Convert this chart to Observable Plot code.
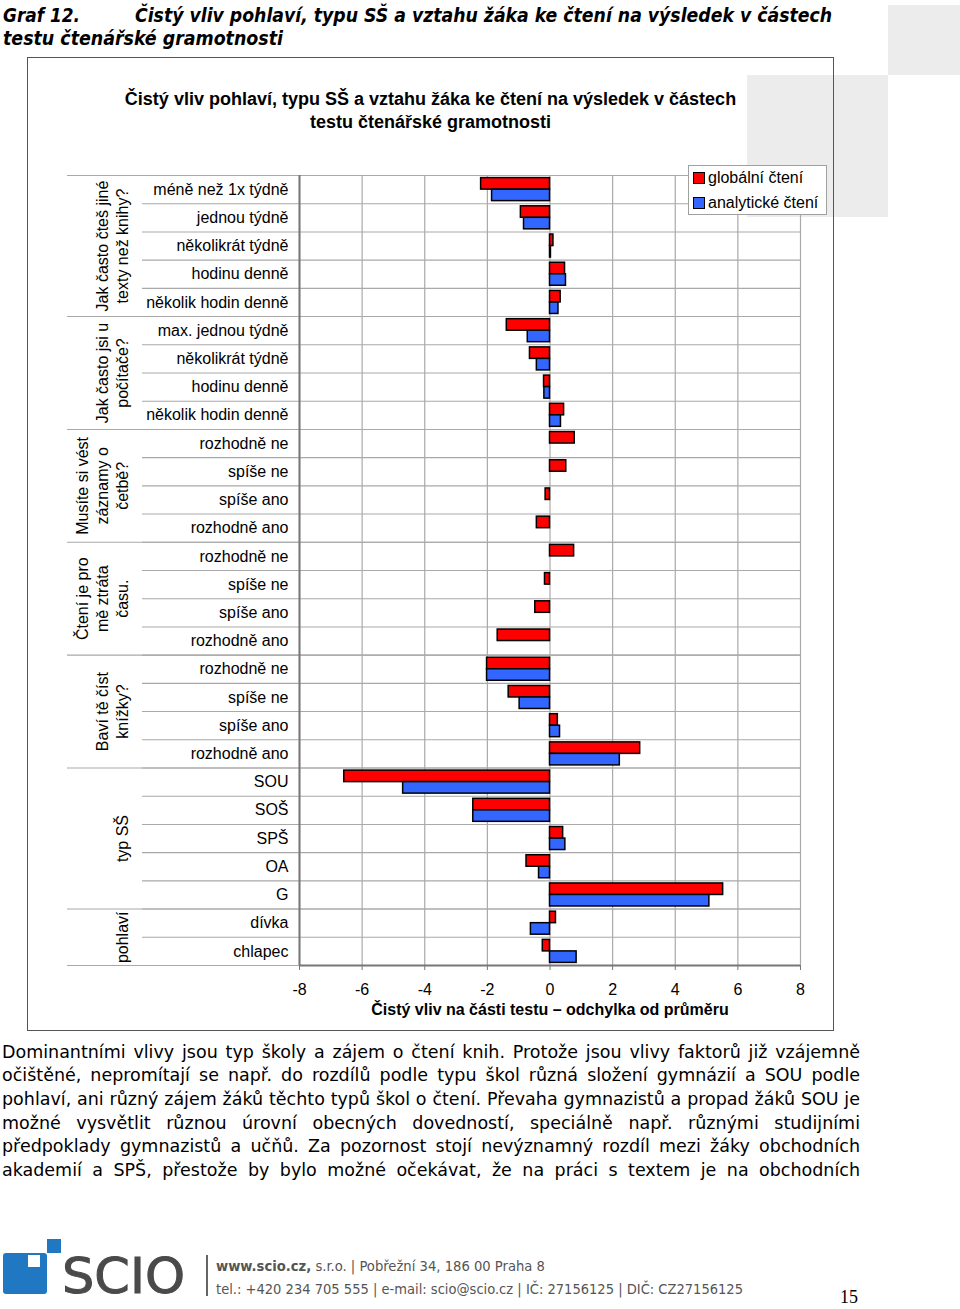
<!DOCTYPE html>
<html><head><meta charset="utf-8">
<script src="https://cdn.jsdelivr.net/npm/d3@7"></script>
<script src="https://cdn.jsdelivr.net/npm/@observablehq/plot@0.6"></script>
<style>
html,body{margin:0;padding:0;background:#fff;}
#page{position:relative;width:960px;height:1309px;overflow:hidden;font-family:"Liberation Sans",Arial,sans-serif;color:#000;}
.abs{position:absolute;white-space:nowrap;}
.sq{position:absolute;background:#ececec;}
.head{position:absolute;white-space:nowrap;font-family:"DejaVu Sans Condensed","DejaVu Sans",sans-serif;font-stretch:condensed;font-weight:bold;font-style:italic;font-size:19px;line-height:23px;}
#box{position:absolute;left:27px;top:57px;width:807px;height:974px;border:1.5px solid #555;box-sizing:border-box;}
.ctitle{position:absolute;left:27px;width:807px;text-align:center;font-weight:bold;font-size:18px;line-height:23px;white-space:nowrap;}
#chart{position:absolute;left:27px;top:150px;}
#legend{position:absolute;left:688px;top:165px;width:139px;height:50px;background:#fff;border:1px solid #a0a0a0;box-sizing:border-box;font-size:16px;}
.li{position:absolute;left:4px;white-space:nowrap;line-height:20px;}
.sw{display:inline-block;width:10px;height:10px;border:1px solid #000;margin-right:3px;vertical-align:-1px;}
.para{position:absolute;left:2px;white-space:nowrap;font-family:"DejaVu Sans",sans-serif;font-size:17px;line-height:23.5px;}
.foot{position:absolute;white-space:nowrap;font-family:"DejaVu Sans Condensed","DejaVu Sans",sans-serif;font-stretch:condensed;font-size:14px;line-height:18px;color:#555;transform-origin:0 0;}
</style></head>
<body><div id="page">
<div class="sq" style="left:888px;top:5px;width:72px;height:70px"></div>
<div class="sq" style="left:747px;top:75px;width:141px;height:142px"></div>

<div class="head fit" data-w="77" style="left:3px;top:3.5px">Graf 12.</div>
<div class="head fit" data-w="697" style="left:135px;top:3.5px">Čistý vliv pohlaví, typu SŠ a vztahu žáka ke čtení na výsledek v částech</div>
<div class="head fit" data-w="280" style="left:3px;top:26.5px">testu čtenářské gramotnosti</div>

<div id="box"></div>
<div class="ctitle" style="top:87.5px">Čistý vliv pohlaví, typu SŠ a vztahu žáka ke čtení na výsledek v částech</div>
<div class="ctitle" style="top:110.5px">testu čtenářské gramotnosti</div>
<div id="chart"></div>
<div id="legend"></div>

<div id="paragraph"></div>

<div class="abs" style="left:3px;top:1253px;width:44px;height:41px;background:#1f78c1;border-radius:3px"></div>
<div class="abs" style="left:28px;top:1255px;width:12px;height:12px;background:#fff"></div>
<div class="abs" style="left:47px;top:1239px;width:14px;height:14px;background:#1f78c1"></div>
<div class="abs fit" data-w="123" style="left:62px;top:1251px;font-family:'DejaVu Sans',sans-serif;font-size:50px;line-height:50px;color:#4a4a4a;-webkit-text-stroke:1px #4a4a4a;transform-origin:0 0">SCIO</div>
<div class="abs" style="left:206px;top:1255px;width:1.5px;height:41px;background:#666"></div>
<div class="foot fit" data-w="329" style="left:216px;top:1257px"><b>www.scio.cz,</b> s.r.o. | Pobřežní 34, 186 00 Praha 8</div>
<div class="foot fit" data-w="527" style="left:216px;top:1280px">tel.: +420 234 705 555 | e-mail: scio@scio.cz | IČ: 27156125 | DIČ: CZ27156125</div>
<div class="abs fit" data-w="18" style="left:840px;top:1287px;font-family:'Liberation Serif',serif;font-size:19px;line-height:19px;transform-origin:0 0">15</div>
</div>
<script>
// ---- data ----
const groupLabels = ["Jak často čteš jiné\ntexty než knihy?", "Jak často jsi u\npočítače?", "Musíte si vést\nzáznamy o\nčetbě?", "Čtení je pro\nmě ztráta\nčasu.", "Baví tě číst\nknížky?", "typ SŠ", "pohlaví"];
const groupSizes = [5, 4, 4, 4, 4, 5, 2];
const categories = ["méně než 1x týdně", "jednou týdně", "několikrát týdně", "hodinu denně", "několik hodin denně",
  "max. jednou týdně", "několikrát týdně", "hodinu denně", "několik hodin denně",
  "rozhodně ne", "spíše ne", "spíše ano", "rozhodně ano",
  "rozhodně ne", "spíše ne", "spíše ano", "rozhodně ano",
  "rozhodně ne", "spíše ne", "spíše ano", "rozhodně ano",
  "SOU", "SOŠ", "SPŠ", "OA", "G",
  "dívka", "chlapec"];
const globalni = [-2.20, -0.93, 0.11, 0.48, 0.34,
  -1.38, -0.64, -0.19, 0.45,
  0.79, 0.52, -0.14, -0.42,
  0.77, -0.16, -0.47, -1.67,
  -2.01, -1.32, 0.25, 2.88,
  -6.57, -2.45, 0.42, -0.75, 5.53,
  0.19, -0.23];
const analyticke = [-1.85, -0.83, 0.03, 0.51, 0.27,
  -0.71, -0.42, -0.18, 0.35,
  null, null, null, null,
  null, null, null, null,
  -2.01, -0.97, 0.32, 2.23,
  -4.69, -2.45, 0.49, -0.35, 5.09,
  -0.61, 0.85];
const seriesNames = ["globální čtení", "analytické čtení"];
const seriesColors = ["#ff0000", "#3366ff"];
const xTicks = [-8, -6, -4, -2, 0, 2, 4, 6, 8];
const axisLabel = "Čistý vliv na části testu – odchylka od průměru";
const paragraphLines = [
  "Dominantními vlivy jsou typ školy a zájem o čtení knih. Protože jsou vlivy faktorů již vzájemně",
  "očištěné, nepromítají se např. do rozdílů podle typu škol různá složení gymnázií a SOU podle",
  "pohlaví, ani různý zájem žáků těchto typů škol o čtení. Převaha gymnazistů a propad žáků SOU je",
  "možné vysvětlit různou úrovní obecných dovedností, speciálně např. různými studijními",
  "předpoklady gymnazistů a učňů. Za pozornost stojí nevýznamný rozdíl mezi žáky obchodních",
  "akademií a SPŠ, přestože by bylo možné očekávat, že na práci s textem je na obchodních"
];

// ---- chart ----
const W = 807, H = 875, ML = 272, MR = 34, MT = 25, MB = 60;
const N = categories.length;
const bw = (H - MT - MB) / N;
const keys = categories.map((_, i) => "r" + i);
const starts = [];
{ let acc = 0; for (const n of groupSizes) { starts.push(acc); acc += n; } }
const rows = keys.map((k, i) => ({key: k, glob: globalni[i], anal: analyticke[i]}));
const gridColor = "#a9a9a9";

const chart = Plot.plot({
  width: W, height: H, marginLeft: ML, marginRight: MR, marginTop: MT, marginBottom: MB,
  style: {fontFamily: "'Liberation Sans', Arial, sans-serif", fontSize: "16px", color: "#000", background: "transparent", overflow: "visible"},
  x: {domain: [xTicks[0], xTicks[xTicks.length - 1]], label: null},
  y: {domain: keys, padding: 0, round: false, label: null},
  marks: [
    Plot.gridX(xTicks, {stroke: gridColor, strokeOpacity: 1, strokeWidth: 1.2}),
    Plot.ruleY(keys, {dy: -bw / 2, stroke: gridColor, strokeWidth: 1.1, insetLeft: -157}),
    Plot.ruleY(starts.map(s => keys[s]), {dy: -bw / 2, stroke: gridColor, strokeWidth: 1.1, insetLeft: -232}),
    Plot.ruleY([keys[N - 1]], {dy: bw / 2, stroke: gridColor, strokeWidth: 1.1, insetLeft: -232}),
    Plot.barX(rows, {y: "key", x: "glob", fill: seriesColors[0], stroke: "#000", strokeWidth: 1.5, insetTop: 2.6, insetBottom: bw / 2}),
    Plot.barX(rows.filter(d => d.anal != null), {y: "key", x: "anal", fill: seriesColors[1], stroke: "#000", strokeWidth: 1.5, insetTop: bw / 2, insetBottom: 2.6}),
    Plot.ruleX([xTicks[0]], {stroke: "#777", strokeWidth: 2}),
    Plot.ruleY([keys[N - 1]], {dy: bw / 2, stroke: "#777", strokeWidth: 2}),
    Plot.axisX({ticks: xTicks, tickSize: 5, tickPadding: 13, stroke: "#777", tickFormat: d => String(d), label: null}),
    Plot.axisY({tickSize: 0, tickPadding: 11, tickFormat: k => categories[keys.indexOf(k)], label: null}),
    ...groupLabels.map((g, gi) => Plot.text([g], {
      text: d => d, y: [keys[starts[gi]]], frameAnchor: "left", textAnchor: "middle", dx: -172,
      dy: (groupSizes[gi] - 1) / 2 * bw, rotate: -90, lineAnchor: "bottom", lineHeight: 1.25, fill: "#000"
    })),
    Plot.text([axisLabel], {text: d => d, frameAnchor: "bottom", textAnchor: "middle", dy: 49.5, fontWeight: "bold", fill: "#000"})
  ]
});
document.getElementById("chart").append(chart);

// ---- legend ----
const leg = document.getElementById("legend");
seriesNames.forEach((s, i) => {
  const d = document.createElement("div");
  d.className = "li";
  d.style.top = (2 + i * 25) + "px";
  d.innerHTML = `<span class="sw" style="background:${seriesColors[i]}"></span>${s}`;
  leg.append(d);
});

// ---- paragraph ----
const para = document.getElementById("paragraph");
const lineEls = paragraphLines.map((t, i) => {
  const d = document.createElement("div");
  d.className = "para";
  d.style.top = (1040.5 + i * 23.7) + "px";
  d.textContent = t;
  para.append(d);
  return d;
});
// size the font so that the tightest line (3rd) sets naturally at the column width
{
  const nat3 = lineEls[2].getBoundingClientRect().width;
  const fs = 17 * 854 / nat3;
  lineEls.forEach(d => d.style.fontSize = fs + "px");
}
lineEls.forEach((d, i) => {
  const t = paragraphLines[i];
  const nat = d.getBoundingClientRect().width;
  const spaces = (t.match(/ /g) || []).length;
  d.style.wordSpacing = ((858 - nat) / spaces) + "px";
});

// ---- fit widths ----
document.querySelectorAll(".fit").forEach(el => {
  const w = +el.dataset.w;
  const r = el.getBoundingClientRect().width;
  el.style.transformOrigin = "0 0";
  el.style.transform = `scaleX(${w / r})`;
});
</script>
</body></html>
